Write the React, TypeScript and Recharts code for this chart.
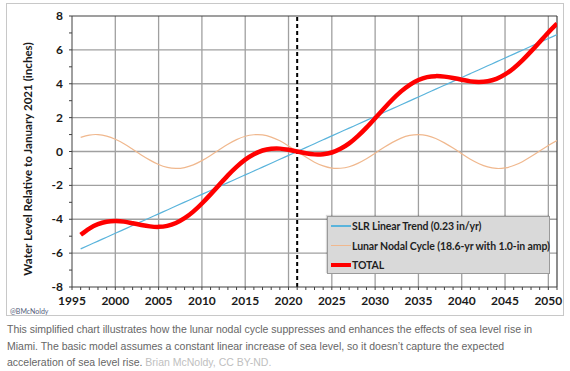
import { LineChart, Line, XAxis, YAxis, ReferenceLine } from "recharts"

const years = [
  1996, 1997, 1998, 1999, 2000, 2001, 2002, 2003, 2004, 2005, 2006, 2007, 2008, 2009,
  2010, 2011, 2012, 2013, 2014, 2015, 2016, 2017, 2018, 2019, 2020, 2021, 2022, 2023,
  2024, 2025, 2026, 2027, 2028, 2029, 2030, 2031, 2032, 2033, 2034, 2035, 2036, 2037,
  2038, 2039, 2040, 2041, 2042, 2043, 2044, 2045, 2046, 2047, 2048, 2049, 2050, 2051,
]

// SLR linear trend (inches, relative to Jan 2021)
const slrTrend = [
  -5.75, -5.52, -5.29, -5.06, -4.83, -4.6, -4.37, -4.14, -3.91, -3.68, -3.45, -3.22, -2.99, -2.76,
  -2.53, -2.3, -2.07, -1.84, -1.61, -1.38, -1.15, -0.92, -0.69, -0.46, -0.23, 0, 0.23, 0.46,
  0.69, 0.92, 1.15, 1.38, 1.61, 1.84, 2.07, 2.3, 2.53, 2.76, 2.99, 3.22, 3.45, 3.68,
  3.91, 4.14, 4.37, 4.6, 4.83, 5.06, 5.29, 5.52, 5.75, 5.98, 6.21, 6.44, 6.67, 6.9,
]

// lunar nodal cycle
const lunarCycle = [
  0.83, 0.97, 1.0, 0.91, 0.72, 0.46, 0.13, -0.2, -0.51, -0.77, -0.94, -1.0, -0.95, -0.79,
  -0.54, -0.23, 0.1, 0.43, 0.7, 0.9, 0.99, 0.98, 0.85, 0.63, 0.33, 0, -0.33, -0.63,
  -0.85, -0.98, -0.99, -0.9, -0.7, -0.43, -0.1, 0.23, 0.54, 0.79, 0.95, 1.0, 0.94, 0.77,
  0.51, 0.2, -0.13, -0.46, -0.72, -0.91, -1.0, -0.97, -0.83, -0.6, -0.3, 0.03, 0.36, 0.65,
]

const total = [
  -4.92, -4.55, -4.29, -4.15, -4.11, -4.14, -4.24, -4.34, -4.42, -4.45, -4.39, -4.22, -3.94, -3.55,
  -3.07, -2.53, -1.97, -1.41, -0.91, -0.48, -0.16, 0.06, 0.16, 0.17, 0.1, 0, -0.1, -0.17,
  -0.16, -0.06, 0.16, 0.48, 0.91, 1.41, 1.97, 2.53, 3.07, 3.55, 3.94, 4.22, 4.39, 4.45,
  4.42, 4.34, 4.24, 4.14, 4.11, 4.15, 4.29, 4.55, 4.92, 5.38, 5.91, 6.47, 7.03, 7.55,
]

const xTicks = [1995, ...years]
const xLabelTicks = [1995, 2000, 2005, 2010, 2015, 2020, 2025, 2030, 2035, 2040, 2045, 2050]
const yTicks = [-8, -7, -6, -5, -4, -3, -2, -1, 0, 1, 2, 3, 4, 5, 6, 7, 8]
const yLabelTicks = [-8, -6, -4, -2, 0, 2, 4, 6, 8]
const gridYears = [2000, 2005, 2010, 2015, 2020, 2025, 2030, 2035, 2040, 2045, 2050]
const gridLevels = [-6, -4, -2, 0, 2, 4, 6]
const baseYear = 2021

const data = years.map((year, i) => ({
  year,
  slr: slrTrend[i],
  lunar: lunarCycle[i],
  total: total[i],
}))

const tickFont = "Lato, 'Open Sans', sans-serif"
const axisColor = "#404040"
const gridColor = "#a0a0a0"

function XTick({ x, y, payload }: any) {
  if (!xLabelTicks.includes(payload.value)) return <g />
  return (
    <text x={x} y={y} dy={13} textAnchor="middle" fontFamily={tickFont} fontWeight={700} fontSize={12} fill="#1a1a1a">
      {payload.value}
    </text>
  )
}

function YTick({ x, y, payload }: any) {
  if (!yLabelTicks.includes(payload.value)) return <g />
  return (
    <text x={x - 4} y={y} dy={4} textAnchor="end" fontFamily={tickFont} fontWeight={700} fontSize={12} fill="#1a1a1a">
      {payload.value}
    </text>
  )
}

function LegendBox() {
  const rows = [
    { label: "SLR Linear Trend (0.23 in/yr)", color: "#5ab4dc", h: 1.5 },
    { label: "Lunar Nodal Cycle (18.6-yr with 1.0-in amp)", color: "#f0b88e", h: 1.5 },
    { label: "TOTAL", color: "#ff0000", h: 4 },
  ]
  return (
    <div
      style={{
        position: "absolute",
        left: 327,
        top: 216,
        width: 221,
        height: 56,
        background: "#d9d9d9",
        border: "1px solid #9a9a9a",
        boxShadow: "-1px -1px 1px rgba(0,0,0,0.15)",
        fontFamily: tickFont,
        fontWeight: 700,
        fontSize: 10.5,
        color: "#1f1f1f",
      }}
    >
      {rows.map((r, i) => (
        <div key={r.label} style={{ position: "absolute", left: 3, top: 2 + i * 19.5, height: 14, display: "flex", alignItems: "center", whiteSpace: "nowrap" }}>
          <span style={{ display: "inline-block", width: 20, height: r.h, background: r.color, marginRight: 1 }} />
          <span style={{ letterSpacing: -0.1 }}>{r.label}</span>
        </div>
      ))}
    </div>
  )
}

export default function App() {
  return (
    <div style={{ position: "absolute", left: 0, top: 0, width: 570, height: 371, background: "#fff", overflow: "hidden" }}>
      <div style={{ position: "absolute", left: 6, top: 3, width: 556, height: 311, border: "1px solid #c8c8c8" }} />
      <div style={{ position: "absolute", left: 0, top: 0 }}>
        <LineChart width={570} height={320} data={data} margin={{ top: 16, right: 13, bottom: 9, left: 12 }}>
          {gridYears.map((v) => (
            <ReferenceLine key={`gx${v}`} x={v} stroke={gridColor} strokeWidth={1.3} />
          ))}
          {gridLevels.map((v) => (
            <ReferenceLine key={`gy${v}`} y={v} stroke={gridColor} strokeWidth={1.3} />
          ))}
          <ReferenceLine y={8} stroke={axisColor} strokeWidth={1.2} />
          <ReferenceLine x={2051} stroke={axisColor} strokeWidth={1.2} />
          <XAxis
            type="number"
            dataKey="year"
            domain={[1995, 2051]}
            ticks={xTicks}
            interval={0}
            allowDataOverflow
            height={24}
            tickSize={3}
            stroke={axisColor}
            tickLine={{ stroke: axisColor }}
            tick={<XTick />}
          />
          <YAxis
            type="number"
            domain={[-8, 8]}
            ticks={yTicks}
            interval={0}
            allowDataOverflow
            width={60}
            tickSize={3}
            stroke={axisColor}
            tickLine={{ stroke: axisColor }}
            tick={<YTick />}
          />
          <ReferenceLine x={baseYear} stroke="#000" strokeWidth={2} strokeDasharray="4 3" />
          <Line type="natural" dataKey="lunar" stroke="#f0b88e" strokeWidth={1.2} dot={false} isAnimationActive={false} />
          <Line type="natural" dataKey="slr" stroke="#5ab4dc" strokeWidth={1.2} dot={false} isAnimationActive={false} />
          <Line type="natural" dataKey="total" stroke="#ff0000" strokeWidth={4.5} dot={false} isAnimationActive={false} />
        </LineChart>
      </div>
      <div
        style={{
          position: "absolute",
          left: 27,
          top: 159,
          transform: "translate(-50%, -50%) rotate(-90deg)",
          whiteSpace: "nowrap",
          fontFamily: tickFont,
          fontWeight: 700,
          fontSize: 11.6,
          color: "#1a1a1a",
        }}
      >
        Water Level Relative to January 2021 (inches)
      </div>
      <div style={{ position: "absolute", left: 10, top: 307, fontFamily: tickFont, fontSize: 7, color: "#55607a" }}>@BMcNoldy</div>
      <LegendBox />
      <div
        style={{
          position: "absolute",
          left: 7,
          top: 321,
          width: 560,
          fontFamily: "'Liberation Sans', Arial, sans-serif",
          fontSize: 10.5,
          lineHeight: "16.5px",
          color: "#666",
        }}
      >
        This simplified chart illustrates how the lunar nodal cycle suppresses and enhances the effects of sea level rise in
        <br />
        Miami. The basic model assumes a constant linear increase of sea level, so it doesn’t capture the expected
        <br />
        acceleration of sea level rise. <span style={{ color: "#c0c0c0" }}>Brian McNoldy, CC BY-ND.</span>
      </div>
    </div>
  )
}
